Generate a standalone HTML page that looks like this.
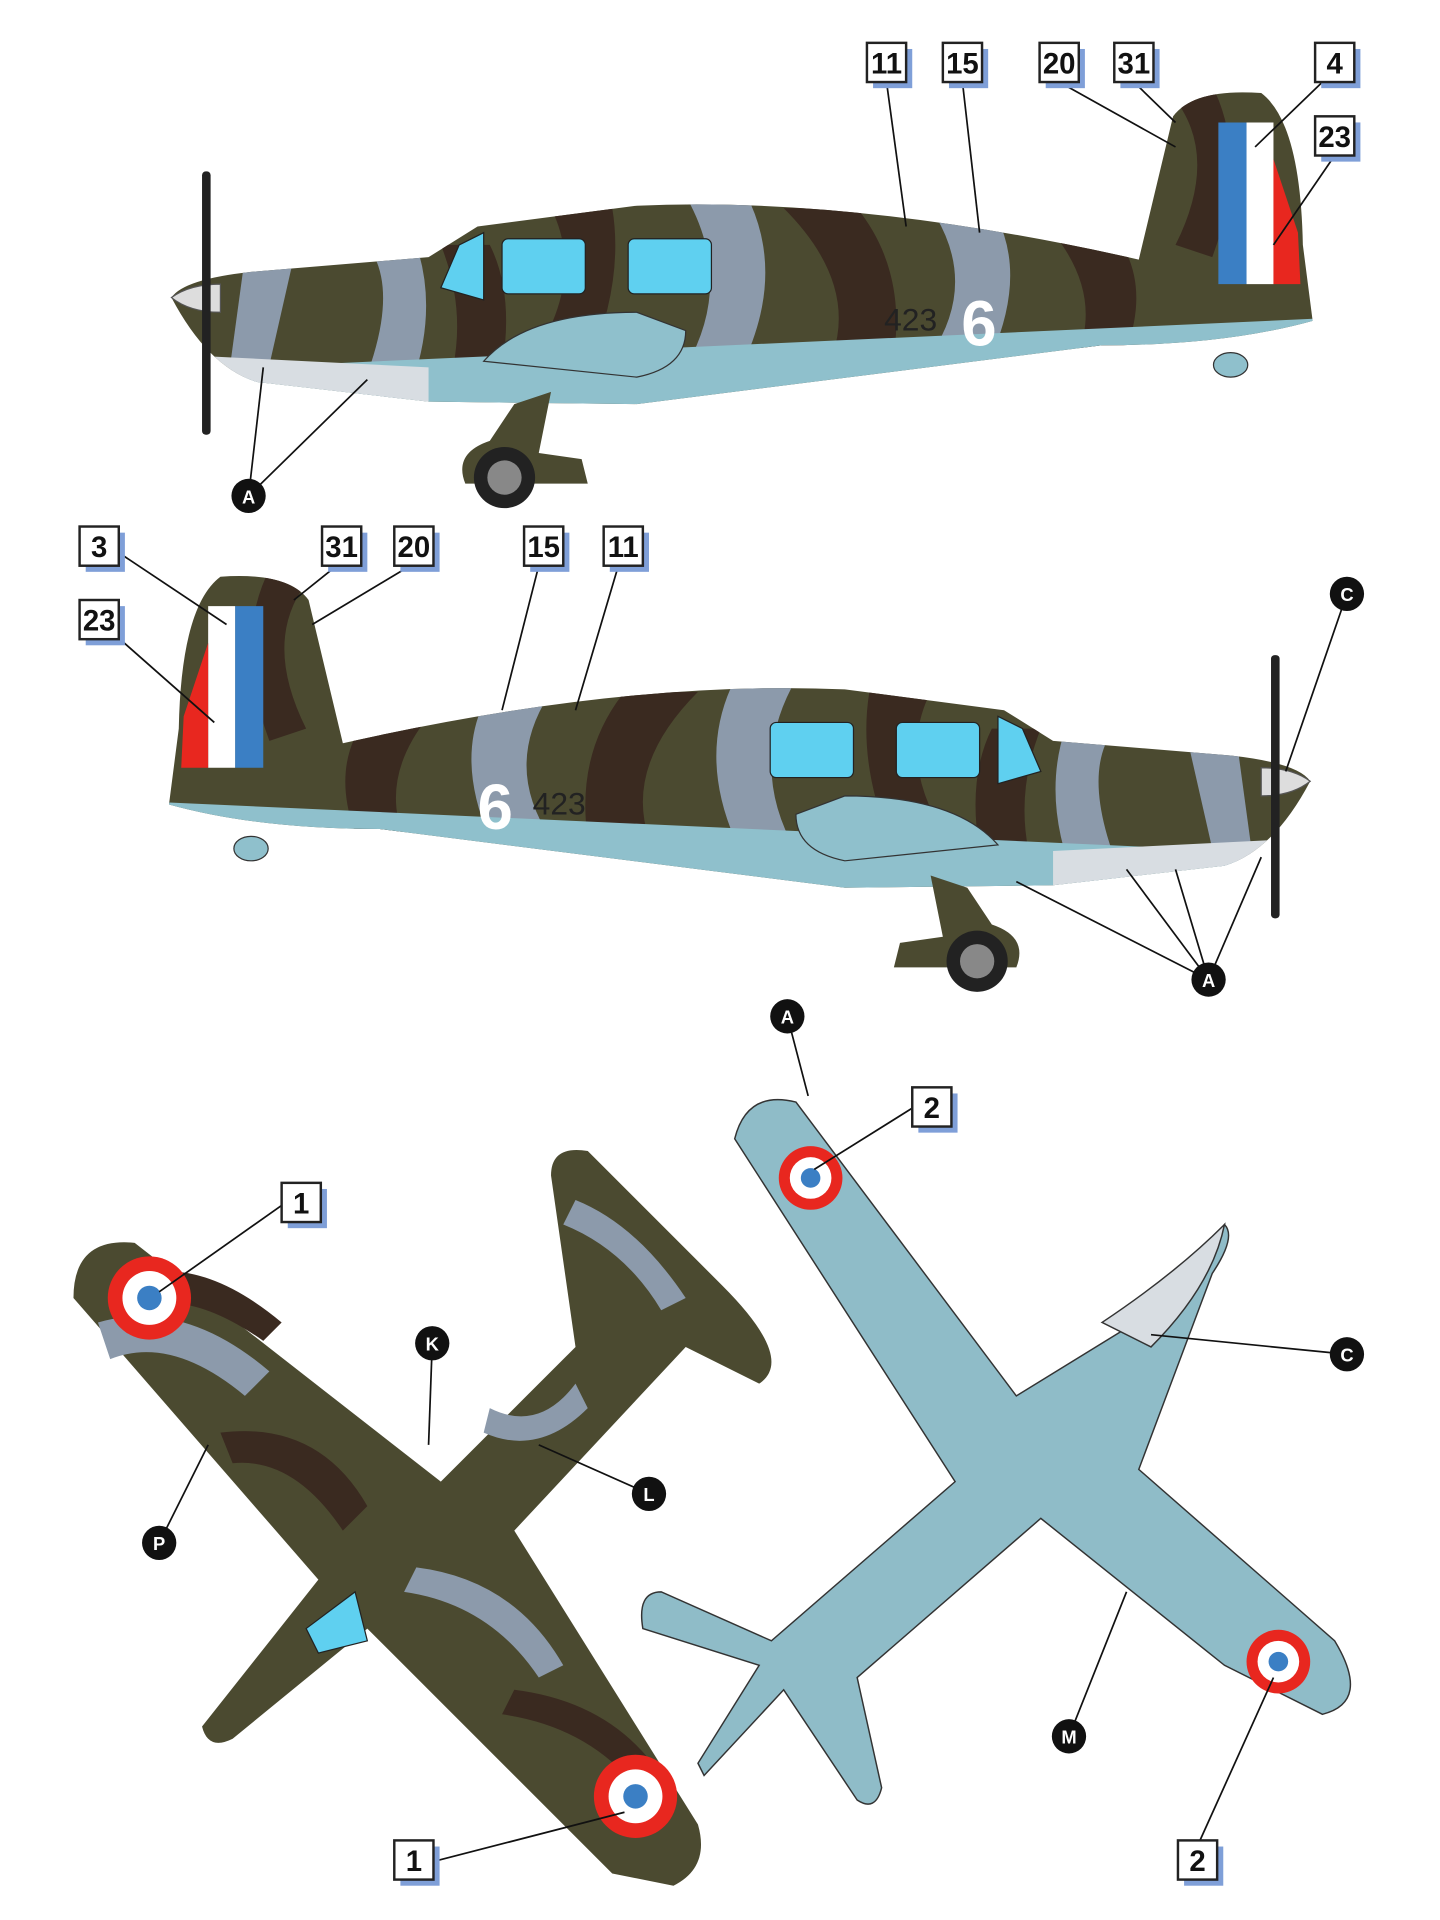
<!DOCTYPE html>
<html><head><meta charset="utf-8"><style>
html,body{margin:0;padding:0;background:#fff;}
svg{display:block}
.lb rect.s{fill:#7f9fd8}
.lb rect.b{fill:#fff;stroke:#222;stroke-width:2}
.lb text{font-family:"Liberation Sans",sans-serif;font-weight:bold;font-size:24px;fill:#111;text-anchor:middle}
.cl text{font-family:"Liberation Sans",sans-serif;font-weight:bold;font-size:15px;fill:#fff;text-anchor:middle}
.ln{stroke:#111;stroke-width:1.4;fill:none}
.n4{font-family:"Liberation Sans",sans-serif;font-size:26px;fill:#222}
.n6{font-family:"Liberation Sans",sans-serif;font-weight:bold;font-size:52px;fill:#fff}
</style></head><body>
<svg width="1440" height="1920" viewBox="0 0 1176 1568" xmlns="http://www.w3.org/2000/svg">
<defs>
<clipPath id="fus"><path d="M140,243 Q150,228 205,222 L350,210 L390,185 L520,168 Q700,160 930,212 L958,95 Q975,72 1030,76 Q1062,100 1064,200 L1072,262 Q1000,282 900,282 L520,330 L350,328 L210,312 Q170,300 140,243 Z"/></clipPath>
<g id="side">
<path d="M140,243 Q150,228 205,222 L350,210 L390,185 L520,168 Q700,160 930,212 L958,95 Q975,72 1030,76 Q1062,100 1064,200 L1072,262 Q1000,282 900,282 L520,330 L350,328 L210,312 Q170,300 140,243 Z" fill="#4b4a30"/>
<g clip-path="url(#fus)">
<path d="M200,210 L240,210 L215,320 L185,320Z" fill="#8c9aab"/>
<path d="M300,200 Q330,240 290,330 L330,330 Q360,260 340,200Z" fill="#8c9aab"/>
<path d="M450,170 Q480,230 430,300 L480,300 Q510,230 500,170Z" fill="#3a2a20"/>
<path d="M560,160 Q600,230 560,300 L610,290 Q640,220 610,160Z" fill="#8c9aab"/>
<path d="M640,170 Q700,230 680,290 L730,290 Q740,220 700,170Z" fill="#3a2a20"/>
<path d="M760,170 Q800,230 760,290 L810,290 Q840,220 810,170Z" fill="#8c9aab"/>
<path d="M860,190 Q900,240 880,290 L920,285 Q940,230 910,190Z" fill="#3a2a20"/>
<path d="M950,70 Q1000,120 960,200 L990,210 Q1020,130 990,70Z" fill="#3a2a20"/>
<path d="M360,200 Q380,250 370,300 L410,300 Q420,240 400,200Z" fill="#3a2a20"/>
<path d="M200,300 L1080,260 L1080,340 L200,340Z" fill="#8fc0cc"/>
<path d="M150,290 L350,300 L350,340 L150,340Z" fill="#d8dde2"/>
</g>
<path d="M995,100 L1018,100 L1018,232 L995,232Z" fill="#3b7fc4"/>
<path d="M1018,100 L1040,100 L1040,232 L1018,232Z" fill="#fff"/>
<path d="M1040,130 L1060,190 L1062,232 L1040,232Z" fill="#e8271f"/>
<path d="M360,235 L375,200 L395,190 L395,245Z" fill="#5fd0f0" stroke="#222"/>
<rect x="410" y="195" width="68" height="45" rx="5" fill="#5fd0f0" stroke="#222"/>
<rect x="513" y="195" width="68" height="45" rx="5" fill="#5fd0f0" stroke="#222"/>
<path d="M395,295 Q430,255 520,255 L560,270 Q560,300 520,308 Z" fill="#8fc0cc" stroke="#333"/>
<path d="M420,330 L450,320 L440,370 L475,375 L480,395 L380,395 Q370,370 400,360Z" fill="#4b4a30"/>
<ellipse cx="412" cy="390" rx="25" ry="25" fill="#222"/>
<ellipse cx="412" cy="390" rx="14" ry="14" fill="#888"/>
<path d="M140,243 Q155,232 180,232 L180,255 Q155,255 140,243Z" fill="#ddd" stroke="#555"/>
<rect x="165" y="140" width="7" height="215" rx="3" fill="#222"/>
<ellipse cx="1005" cy="298" rx="14" ry="10" fill="#8fc0cc" stroke="#333"/>
</g>
</defs>

<use href="#side"/>
<text x="722" y="270" class="n4">423</text>
<text x="785" y="282" class="n6">6</text>
<g transform="translate(1210,395) scale(-1,1)"><use href="#side"/></g>
<text x="435" y="665" class="n4">423</text>
<text x="390" y="677" class="n6">6</text>

<!-- bottom-left plane (top view, camo) -->
<g>
<path d="M60,1060 Q60,1010 110,1015 L360,1210 L470,1100 L450,960 Q450,935 480,940 L590,1050 Q650,1110 620,1130 L560,1100 L420,1250 L570,1490 Q580,1525 550,1540 L500,1530 L300,1330 L190,1420 Q170,1430 165,1410 L260,1290 Z" fill="#4b4a30"/>
<path d="M80,1080 Q150,1060 220,1120 L200,1140 Q140,1090 90,1110Z" fill="#8c9aab"/>
<path d="M180,1170 Q260,1160 300,1230 L280,1250 Q240,1190 190,1195Z" fill="#3a2a20"/>
<path d="M120,1040 Q170,1030 230,1080 L215,1095 Q165,1060 130,1065Z" fill="#3a2a20"/>
<path d="M340,1280 Q420,1290 460,1360 L440,1370 Q400,1310 330,1300Z" fill="#8c9aab"/>
<path d="M420,1380 Q500,1390 540,1450 L520,1460 Q480,1410 410,1400Z" fill="#3a2a20"/>
<path d="M400,1150 Q440,1170 470,1130 L480,1150 Q440,1190 395,1170Z" fill="#8c9aab"/>
<path d="M470,980 Q520,1000 560,1060 L540,1070 Q510,1020 460,1000Z" fill="#8c9aab"/>
<path d="M250,1330 L290,1300 L300,1340 L260,1350Z" fill="#5fd0f0" stroke="#222"/>
<circle cx="122" cy="1060" r="34" fill="#e8271f"/><circle cx="122" cy="1060" r="22" fill="#fff"/><circle cx="122" cy="1060" r="10" fill="#3b7fc4"/>
<circle cx="519" cy="1467" r="34" fill="#e8271f"/><circle cx="519" cy="1467" r="22" fill="#fff"/><circle cx="519" cy="1467" r="10" fill="#3b7fc4"/>
</g>

<!-- bottom-right plane (underside) -->
<g fill="#8fbcc8" stroke="#333" stroke-width="1.2">
<path d="M600,930 Q610,890 650,900 L830,1140 L960,1060 L1000,1000 Q1010,1010 990,1040 L930,1200 L1090,1340 Q1120,1390 1080,1400 L1000,1360 L850,1240 L700,1370 L720,1460 Q715,1480 700,1470 L640,1380 L575,1450 L570,1440 L620,1360 L525,1330 Q520,1300 540,1300 L630,1340 L780,1210 Z"/>
<path d="M900,1080 Q960,1040 1000,1000 Q990,1050 940,1100Z" fill="#d8dde2"/>
<circle cx="662" cy="962" r="26" fill="#e8271f" stroke="none"/><circle cx="662" cy="962" r="17" fill="#fff" stroke="none"/><circle cx="662" cy="962" r="8" fill="#3b7fc4" stroke="none"/>
<circle cx="1044" cy="1357" r="26" fill="#e8271f" stroke="none"/><circle cx="1044" cy="1357" r="17" fill="#fff" stroke="none"/><circle cx="1044" cy="1357" r="8" fill="#3b7fc4" stroke="none"/>
</g>

<!-- leader lines -->
<g class="ln">
<line x1="724" y1="67" x2="740" y2="185"/><line x1="786" y1="67" x2="800" y2="190"/>
<line x1="865" y1="67" x2="960" y2="120"/><line x1="926" y1="67" x2="960" y2="100"/>
<line x1="1080" y1="67" x2="1025" y2="120"/><line x1="1090" y1="127" x2="1040" y2="200"/>
<line x1="203" y1="405" x2="215" y2="300"/><line x1="203" y1="405" x2="300" y2="310"/>
<line x1="95" y1="450" x2="185" y2="510"/><line x1="90" y1="515" x2="175" y2="590"/>
<line x1="275" y1="462" x2="240" y2="490"/><line x1="335" y1="462" x2="255" y2="510"/>
<line x1="440" y1="462" x2="410" y2="580"/><line x1="505" y1="462" x2="470" y2="580"/>
<line x1="1100" y1="485" x2="1050" y2="630"/>
<line x1="987" y1="800" x2="830" y2="720"/><line x1="987" y1="800" x2="920" y2="710"/><line x1="987" y1="800" x2="960" y2="710"/><line x1="987" y1="800" x2="1030" y2="700"/>
<line x1="643" y1="830" x2="660" y2="895"/>
<line x1="745" y1="905" x2="665" y2="955"/>
<line x1="232" y1="983" x2="130" y2="1055"/>
<line x1="353" y1="1097" x2="350" y2="1180"/>
<line x1="1100" y1="1106" x2="940" y2="1090"/>
<line x1="530" y1="1220" x2="440" y2="1180"/>
<line x1="130" y1="1260" x2="170" y2="1180"/>
<line x1="873" y1="1418" x2="920" y2="1300"/>
<line x1="355" y1="1520" x2="510" y2="1480"/>
<line x1="980" y1="1503" x2="1040" y2="1370"/>
</g>

<!-- numbered labels -->
<g class="lb">
<g transform="translate(708,35)"><rect class="s" x="5" y="5" width="32" height="32"/><rect class="b" width="32" height="32"/><text x="16" y="25">11</text></g>
<g transform="translate(770,35)"><rect class="s" x="5" y="5" width="32" height="32"/><rect class="b" width="32" height="32"/><text x="16" y="25">15</text></g>
<g transform="translate(849,35)"><rect class="s" x="5" y="5" width="32" height="32"/><rect class="b" width="32" height="32"/><text x="16" y="25">20</text></g>
<g transform="translate(910,35)"><rect class="s" x="5" y="5" width="32" height="32"/><rect class="b" width="32" height="32"/><text x="16" y="25">31</text></g>
<g transform="translate(1074,35)"><rect class="s" x="5" y="5" width="32" height="32"/><rect class="b" width="32" height="32"/><text x="16" y="25">4</text></g>
<g transform="translate(1074,95)"><rect class="s" x="5" y="5" width="32" height="32"/><rect class="b" width="32" height="32"/><text x="16" y="25">23</text></g>
<g transform="translate(65,430)"><rect class="s" x="5" y="5" width="32" height="32"/><rect class="b" width="32" height="32"/><text x="16" y="25">3</text></g>
<g transform="translate(65,490)"><rect class="s" x="5" y="5" width="32" height="32"/><rect class="b" width="32" height="32"/><text x="16" y="25">23</text></g>
<g transform="translate(263,430)"><rect class="s" x="5" y="5" width="32" height="32"/><rect class="b" width="32" height="32"/><text x="16" y="25">31</text></g>
<g transform="translate(322,430)"><rect class="s" x="5" y="5" width="32" height="32"/><rect class="b" width="32" height="32"/><text x="16" y="25">20</text></g>
<g transform="translate(428,430)"><rect class="s" x="5" y="5" width="32" height="32"/><rect class="b" width="32" height="32"/><text x="16" y="25">15</text></g>
<g transform="translate(493,430)"><rect class="s" x="5" y="5" width="32" height="32"/><rect class="b" width="32" height="32"/><text x="16" y="25">11</text></g>
<g transform="translate(745,888)"><rect class="s" x="5" y="5" width="32" height="32"/><rect class="b" width="32" height="32"/><text x="16" y="25">2</text></g>
<g transform="translate(230,966)"><rect class="s" x="5" y="5" width="32" height="32"/><rect class="b" width="32" height="32"/><text x="16" y="25">1</text></g>
<g transform="translate(322,1503)"><rect class="s" x="5" y="5" width="32" height="32"/><rect class="b" width="32" height="32"/><text x="16" y="25">1</text></g>
<g transform="translate(962,1503)"><rect class="s" x="5" y="5" width="32" height="32"/><rect class="b" width="32" height="32"/><text x="16" y="25">2</text></g>
</g>

<!-- circle labels -->
<g class="cl">
<g transform="translate(203,405)"><circle r="14" fill="#111"/><text y="6">A</text></g>
<g transform="translate(1100,485)"><circle r="14" fill="#111"/><text y="6">C</text></g>
<g transform="translate(987,800)"><circle r="14" fill="#111"/><text y="6">A</text></g>
<g transform="translate(643,830)"><circle r="14" fill="#111"/><text y="6">A</text></g>
<g transform="translate(353,1097)"><circle r="14" fill="#111"/><text y="6">K</text></g>
<g transform="translate(1100,1106)"><circle r="14" fill="#111"/><text y="6">C</text></g>
<g transform="translate(530,1220)"><circle r="14" fill="#111"/><text y="6">L</text></g>
<g transform="translate(130,1260)"><circle r="14" fill="#111"/><text y="6">P</text></g>
<g transform="translate(873,1418)"><circle r="14" fill="#111"/><text y="6">M</text></g>
</g>
</svg>
</body></html>
